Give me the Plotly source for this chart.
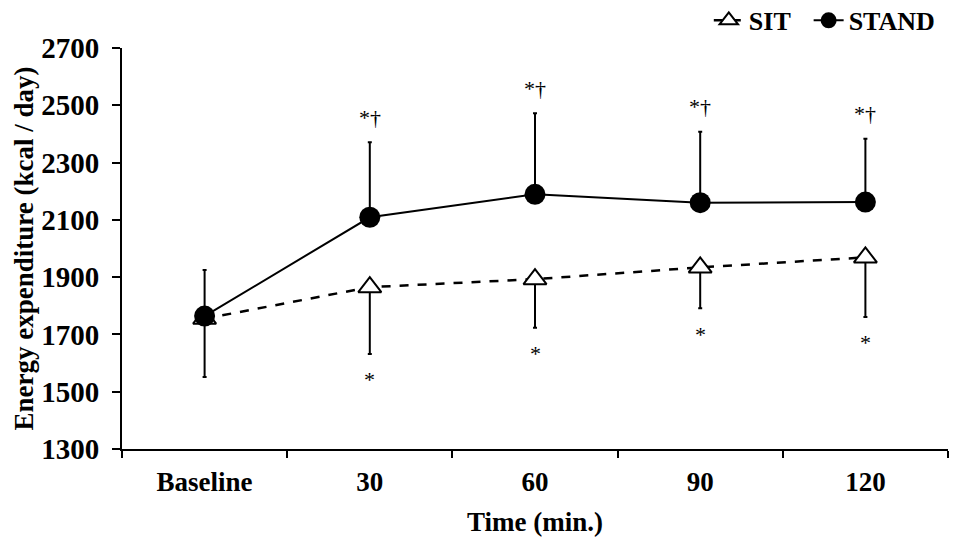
import plotly.graph_objects as go

categories = ["Baseline", "30", "60", "90", "120"]
sit_mean = [1755, 1865, 1893, 1934, 1969]
sit_err_down = [204, 233, 170, 143, 208]
stand_mean = [1764, 2109, 2189, 2160, 2162]
stand_err_up = [161, 262, 283, 248, 221]
stand_marks = ["", "*†", "*†", "*†", "*†"]
sit_marks = ["", "*", "*", "*", "*"]

FONT = "Liberation Serif, Times New Roman, serif"

fig = go.Figure()
fig.add_trace(go.Scatter(
    x=categories, y=sit_mean, name="SIT", mode="lines+markers", legend="legend",
    line=dict(color="black", width=2.5, dash="dash"),
    marker=dict(symbol="triangle-up", size=20, color="white",
                line=dict(color="black", width=2)),
    error_y=dict(type="data", symmetric=False, array=[0]*len(sit_mean),
                 arrayminus=sit_err_down, color="black", thickness=2, width=2),
))
fig.add_trace(go.Scatter(
    x=categories, y=stand_mean, name="STAND", mode="lines+markers", legend="legend2",
    line=dict(color="black", width=2),
    marker=dict(symbol="circle", size=21, color="black"),
    error_y=dict(type="data", symmetric=False, array=stand_err_up,
                 arrayminus=[0]*len(stand_mean), color="black", thickness=2, width=2),
))

for i, (m, e, t) in enumerate(zip(stand_mean, stand_err_up, stand_marks)):
    if t:
        fig.add_annotation(x=i, xref="x", y=m + e, yref="y", text=t, showarrow=False,
                           yshift=25, yanchor="middle",
                           font=dict(family=FONT, size=22, color="black", weight="normal"))
for i, (m, e, t) in enumerate(zip(sit_mean, sit_err_down, sit_marks)):
    if t:
        fig.add_annotation(x=i, xref="x", y=m - e, yref="y", text=t, showarrow=False,
                           yshift=-26, yanchor="middle",
                           font=dict(family=FONT, size=22, color="black", weight="normal"))

legend_common = dict(orientation="h", xref="container", yref="container",
                     xanchor="left", y=0.977, yanchor="middle",
                     font=dict(family=FONT, size=26, color="black", weight="bold"),
                     itemwidth=30, bgcolor="rgba(0,0,0,0)")

# page body has an 8px margin; compensate so the plot lands where the reference has it
fig.update_layout(
    width=960, height=539,
    margin=dict(l=114, r=20, t=40, b=98),
    plot_bgcolor="white", paper_bgcolor="white",
    font=dict(family=FONT, size=27, color="black", weight="bold"),
    showlegend=True,
    legend=dict(x=0.730, **legend_common),
    legend2=dict(x=0.834, **legend_common),
)
fig.update_xaxes(
    type="category", range=[-0.5, 4.5], showline=True, linecolor="black", linewidth=2,
    ticks="outside", tickson="boundaries", ticklen=7, tickwidth=2, tickcolor="black",
    showgrid=False, zeroline=False, automargin=False, ticklabelstandoff=8,
    title=dict(text="Time (min.)", font=dict(family=FONT, size=27, weight="bold"), standoff=16),
    tickfont=dict(family=FONT, size=27, weight="bold"),
)
fig.update_yaxes(
    range=[1300, 2700], dtick=200, tick0=1300, showline=True, linecolor="black", linewidth=2,
    ticks="outside", ticklen=8, tickwidth=2, tickcolor="black",
    showgrid=False, zeroline=False, automargin=False, ticklabelstandoff=7,
    title=dict(text="Energy expenditure (kcal / day)", font=dict(family=FONT, size=27, weight="bold"), standoff=0),
    tickfont=dict(family=FONT, size=29, weight="bold"),
)

fig.write_html("out.html")
